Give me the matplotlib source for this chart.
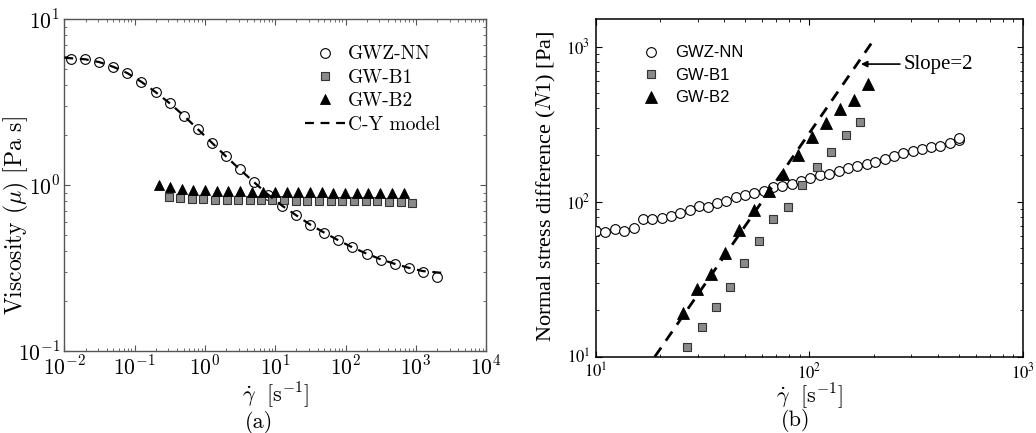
import math
import matplotlib
matplotlib.use("Agg")
import matplotlib.pyplot as plt
from matplotlib.ticker import LogLocator, NullFormatter, FuncFormatter

# ---------------- data: panel (a) viscosity ----------------
nn_rate = [0.0125, 0.0198, 0.0314, 0.0498, 0.0789, 0.125, 0.198, 0.314, 0.498, 0.789,
           1.25, 1.98, 3.14, 4.98, 7.89, 12.5, 19.8, 31.4, 49.8, 78.9,
           125, 198, 314, 498, 789, 1250, 1980]
nn_mu = [5.77, 5.72, 5.48, 5.14, 4.71, 4.17, 3.63, 3.11, 2.62, 2.17,
         1.80, 1.49, 1.24, 1.04, 0.875, 0.75, 0.657, 0.577, 0.516, 0.464,
         0.421, 0.384, 0.355, 0.333, 0.315, 0.298, 0.280]

b1_rate = [0.308, 0.447, 0.647, 0.948, 1.39, 2.04, 2.95, 4.32, 6.33, 9.08, 13.4,
           19.7, 28.5, 41.8, 61.3, 89.8, 131, 193, 282, 414, 607, 889]
b1_mu = [0.85, 0.835, 0.823, 0.82, 0.812, 0.812, 0.812, 0.812, 0.812, 0.808, 0.808,
         0.804, 0.804, 0.80, 0.80, 0.80, 0.80, 0.797, 0.797, 0.793, 0.789, 0.783]

b2_rate = [0.220, 0.319, 0.467, 0.684, 1.00, 1.47, 2.13, 3.15, 4.61, 6.76, 9.91,
           14.5, 21.3, 31.2, 45.6, 66.8, 97.9, 144, 210, 308, 456, 668]
b2_mu = [1.0, 0.968, 0.946, 0.933, 0.929, 0.924, 0.920, 0.916, 0.912, 0.912, 0.908,
         0.908, 0.903, 0.903, 0.903, 0.899, 0.899, 0.899, 0.899, 0.899, 0.895, 0.891]

cy_rate = [0.01, 0.0125, 0.0198, 0.0314, 0.0498, 0.0789, 0.125, 0.198, 0.314, 0.498,
           0.789, 1.25, 1.98, 3.14, 4.98, 7.89, 12.5, 19.8, 31.4, 49.8, 78.9,
           125, 198, 314, 498, 789, 1250, 2450]
cy_mu = [5.85, 5.80, 5.72, 5.50, 5.15, 4.72, 4.18, 3.63, 3.11, 2.62,
         2.17, 1.80, 1.49, 1.24, 1.04, 0.875, 0.75, 0.657, 0.577, 0.516, 0.464,
         0.421, 0.386, 0.357, 0.335, 0.317, 0.303, 0.295]

# ---------------- data: panel (b) first normal stress difference ----------------
nn_rate_b = [10.0, 11.1, 12.3, 13.6, 15.1, 16.6, 18.3, 20.4, 22.5, 24.9, 27.5,
             30.3, 33.5, 37.1, 40.8, 45.4, 49.9, 55.2, 61.1, 67.6, 74.7, 82.6,
             91.3, 101, 112, 124, 137, 151, 167, 185, 203, 225, 249, 275,
             304, 336, 370, 410, 453, 501, 501]
nn_n1 = [65.0, 63.4, 66.4, 64.7, 67.7, 76.9, 77.6, 78.8, 81.2, 84.9, 88.4,
         93.4, 92.5, 97.7, 101, 108, 110, 113, 117, 124, 126, 130,
         136, 142, 149, 151, 159, 164, 170, 174, 180, 188, 197, 205,
         211, 218, 226, 230, 238, 250, 259]

b1_rate_b = [26.7, 31.3, 36.4, 42.5, 49.6, 58.1, 67.7, 79.1, 92.0, 108, 126, 148, 172]
b1_n1 = [11.6, 15.5, 20.9, 28.3, 40.2, 55.7, 77.6, 92.9, 129, 168, 210, 268, 327]

b2_rate_b = [25.5, 29.7, 34.6, 40.3, 47.0, 55.3, 64.9, 75.5, 88.4, 102.5, 119.6,
             139, 161, 188]
b2_n1 = [19.1, 27.5, 34.3, 46.9, 66.0, 88.4, 117, 151, 200, 260, 321,
         395, 453, 574]

slope_rate = [18.9, 200]
slope_n1 = [10.0, 1110]

# ---------------- figure ----------------
plt.rcParams['mathtext.fontset'] = 'cm'
plt.rcParams['axes.unicode_minus'] = True

fig = plt.figure(figsize=(10.36, 4.33), dpi=100)
axa = fig.add_axes([0.0621, 0.1894, 0.4073, 0.7667])
axb = fig.add_axes([0.5750, 0.1762, 0.4127, 0.7799])

CM = 'cmr10'
SERIF = 'Liberation Serif'
grey_fill = '#8a8a8a'


def pow10(v, pos):
    return r'$10^{%d}$' % int(round(math.log10(v)))


# ----- panel (a) -----
axa.plot(nn_rate, nn_mu, linestyle='none', marker='o', ms=7.0, mfc='white',
         mec='black', mew=0.8, label='GWZ-NN', zorder=3)
axa.plot(b1_rate, b1_mu, linestyle='none', marker='s', ms=5.6, mfc=grey_fill,
         mec='#333333', mew=0.8, label='GW-B1', zorder=3)
axa.plot(b2_rate, b2_mu, linestyle='none', marker='^', ms=6.8, mfc='black',
         mec='black', mew=0.6, label='GW-B2', zorder=4)
axa.plot(cy_rate, cy_mu, linestyle=(0, (4, 3)), color='black', lw=1.6,
         label='C-Y model', zorder=5)
axa.set_xscale('log')
axa.set_yscale('log')
axa.set_xlim(1e-2, 1e4)
axa.set_ylim(1e-1, 1e1)

axa.legend(loc='upper left', bbox_to_anchor=(0.570, 0.920), frameon=False,
           prop={'family': CM, 'size': 14}, handlelength=2.06,
           handletextpad=0.15, labelspacing=0.28, borderpad=0,
           borderaxespad=0, numpoints=1)

axa.set_ylabel(r'Viscosity ($\mu$) [Pa s]', family=CM, fontsize=17)
axa.yaxis.set_label_coords(-0.078, 0.407)
axa.set_xlabel(r'$\dot{\gamma}\ \ [\mathrm{s}^{-1}]$', fontsize=16)
axa.xaxis.set_label_coords(0.5, -0.088)
fig.text(0.250, 0.024, '(a)', family=CM, fontsize=16, ha='center', va='center')

for sp in axa.spines.values():
    sp.set_color('#555555')
    sp.set_linewidth(1.0)
axa.tick_params(which='both', direction='in', top=True, right=True,
                color='#555555')
axa.tick_params(which='major', length=4, width=0.8, labelsize=15.5, pad=3)
axa.tick_params(which='minor', length=2.2, width=0.6)
axa.xaxis.set_major_locator(LogLocator(base=10, numticks=20))
axa.yaxis.set_major_locator(LogLocator(base=10, numticks=20))
axa.xaxis.set_minor_locator(LogLocator(base=10, subs=range(2, 10), numticks=20))
axa.yaxis.set_minor_locator(LogLocator(base=10, subs=range(2, 10), numticks=20))
axa.xaxis.set_major_formatter(FuncFormatter(pow10))
axa.yaxis.set_major_formatter(FuncFormatter(pow10))
axa.xaxis.set_minor_formatter(NullFormatter())
axa.yaxis.set_minor_formatter(NullFormatter())

# ----- panel (b) -----
axb.plot(nn_rate_b, nn_n1, linestyle='none', marker='o', ms=7.0, mfc='white',
         mec='black', mew=0.8, label='GWZ-NN', zorder=3)
axb.plot(b1_rate_b, b1_n1, linestyle='none', marker='s', ms=5.4, mfc=grey_fill,
         mec='#333333', mew=0.8, label='GW-B1', zorder=3)
axb.plot(b2_rate_b, b2_n1, linestyle='none', marker='^', ms=8.0, mfc='black',
         mec='black', mew=0.6, label='GW-B2', zorder=4)
axb.plot(slope_rate, slope_n1, linestyle=(0, (4, 3)), color='black', lw=2.0,
         zorder=5)
axb.set_xscale('log')
axb.set_yscale('log')
axb.set_xlim(10, 1000)
axb.set_ylim(10, 1510)

axb.legend(loc='upper left', bbox_to_anchor=(0.110, 0.922), frameon=False,
           prop={'family': 'Liberation Sans', 'size': 12}, handlelength=1.0,
           handletextpad=0.93, labelspacing=0.45, borderpad=0, borderaxespad=0,
           numpoints=1)

axb.annotate('Slope=2', xy=(174, 773), xytext=(277, 773), textcoords='data',
             fontsize=15, family=SERIF, va='center', ha='left',
             arrowprops=dict(arrowstyle='-|>', color='black', lw=1.2,
                             mutation_scale=9, shrinkA=1, shrinkB=0))

axb.set_ylabel(r'Normal stress difference ($N$1) [Pa]', family=SERIF,
               fontsize=16)
axb.yaxis.set_label_coords(-0.088, 0.505)
axb.set_xlabel(r'$\dot{\gamma}\ \ [\mathrm{s}^{-1}]$', fontsize=16)
axb.xaxis.set_label_coords(0.5, -0.072)
fig.text(0.768, 0.028, '(b)', family=CM, fontsize=16, ha='center', va='center')

for sp in axb.spines.values():
    sp.set_color('black')
    sp.set_linewidth(1.1)
axb.tick_params(which='both', direction='in', top=True, right=True)
axb.tick_params(which='major', length=4, width=0.8, labelsize=12, pad=4)
axb.tick_params(which='minor', length=2.2, width=0.6)
axb.xaxis.set_minor_locator(LogLocator(base=10, subs=range(2, 10), numticks=20))
axb.yaxis.set_minor_locator(LogLocator(base=10, subs=range(2, 10), numticks=20))
axb.xaxis.set_major_formatter(FuncFormatter(pow10))
axb.yaxis.set_major_formatter(FuncFormatter(pow10))
axb.xaxis.set_minor_formatter(NullFormatter())
axb.yaxis.set_minor_formatter(NullFormatter())
for lab in axb.get_xticklabels() + axb.get_yticklabels():
    lab.set_math_fontfamily('stix')

fig.savefig('out.png', dpi=100)
